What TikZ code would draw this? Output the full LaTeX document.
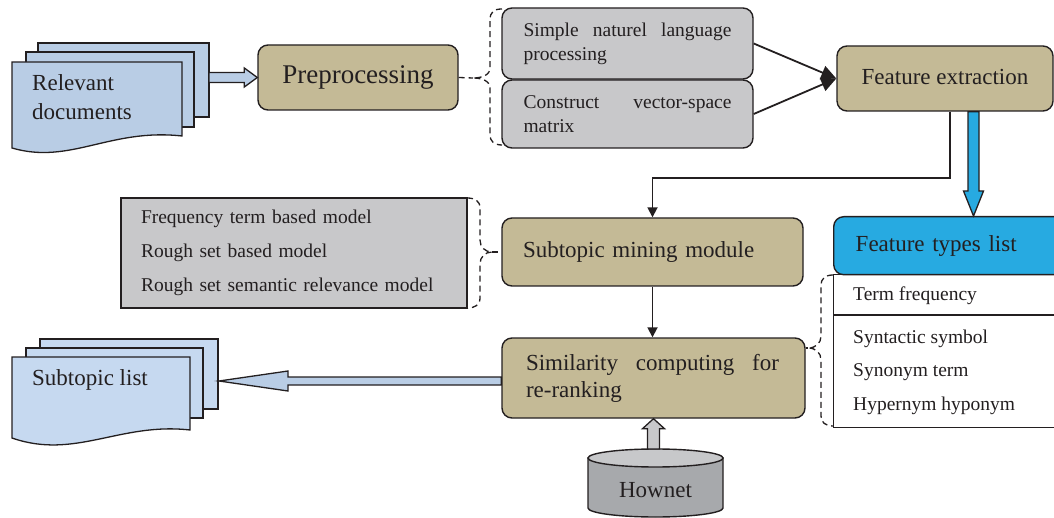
\documentclass[tikz,border=0pt]{standalone}
\usepackage{fontspec}
\setmainfont{Liberation Serif}
\usetikzlibrary{arrows.meta,calc}

\definecolor{ink}{HTML}{231F20}
\definecolor{tanfill}{HTML}{C4BA96}
\definecolor{softgray}{HTML}{C8C8CA}
\definecolor{docblue}{HTML}{B9CDE5}
\definecolor{listblue}{HTML}{C6D9F0}
\definecolor{featblue}{HTML}{27AAE1}
\definecolor{cylbody}{HTML}{A7A9AC}
\definecolor{cyltop}{HTML}{C7C8CA}

% a line whose word spaces stretch to the given width
\newcommand\spreadline[2]{\makebox[#1][s]{\spaceskip=0pt\xspaceskip=0pt\relax #2}}

\tikzset{
  outline/.style={draw=ink, line width=1.4pt},
  roundbox/.style={outline, rounded corners=10pt, inner sep=0pt},
  tanbox/.style={roundbox, fill=tanfill},
  graybox/.style={roundbox, fill=softgray},
  big/.style={font=\fontsize{23}{27}\selectfont},
  small/.style={font=\fontsize{19.5}{24}\selectfont},
  brace/.style={draw=ink, line width=1.3pt, dash pattern=on 6pt off 4pt},
  conn/.style={draw=ink, line width=1.8pt},
  page/.style={draw=ink, line width=1.3pt, fill=docblue},
  fatarrow/.style={draw=ink, line width=1.3pt, line join=miter},
  label/.style={inner sep=0pt, anchor=west},
}

\begin{document}
\begin{tikzpicture}[x=1pt, y=-1pt, text=ink]
\useasboundingbox (0,0) rectangle (1054,518);
\clip (0,0) rectangle (1054,518);

% ---- input document stack ----
\draw[page] (38,43) rectangle (209,117);
\draw[page] (26,52) rectangle (194,127);
\draw[page] (12,62) -- (182,62) -- (182,136)
  .. controls (110,128) and (70,165) .. (12,148) -- cycle;
\node[label, align=left, font=\fontsize{23}{29}\selectfont] (reldocs) at (32,97) {Relevant\\documents};
\coordinate (docsR) at (209,77.5);

% ---- preprocessing ----
\node[tanbox, minimum width=200pt, minimum height=65pt, font=\fontsize{27}{32}\selectfont] (pre) at (358,77.5) {\raisebox{2pt}{Preprocessing}};

\node[graybox, minimum width=251pt, minimum height=71pt, text width=208pt, align=left, small] (nlp) at (627.5,43.5)
  {\spreadline{208pt}{Simple naturel language}\\processing};
\node[graybox, minimum width=251pt, minimum height=68pt, text width=208pt, align=left, small] (vsm) at (627.5,114)
  {\spreadline{208pt}{Construct vector-space}\\matrix};

% brace grouping the two preprocessing steps
\coordinate (preCusp) at (473,78);
\draw[brace] (502,9) .. controls (494,9) and (490,12) .. (490,20) -- (490,68)
  .. controls (490,75) and (482,78) .. (preCusp)
  .. controls (482,78) and (490,81) .. (490,88) -- (490,135)
  .. controls (490,141) and (494,145) .. (502,145);
\draw[brace] (pre.east) -- (preCusp);

% ---- feature extraction ----
\node[tanbox, minimum width=216pt, minimum height=65pt, big] (fe) at (945,78.5) {\raisebox{3pt}{Feature extraction}};
\draw[conn, -{Triangle[length=15pt,width=14pt]}] (nlp.east) -- (fe.west);
\draw[conn, -{Triangle[length=15pt,width=14pt]}] (vsm.east) -- (fe.west);

% ---- feature types list ----
\node[outline, fill=white, inner sep=0pt, minimum width=240pt, minimum height=153pt, anchor=north west] (flist) at (833,274) {};
\draw[outline] ([yshift=-41pt]flist.north west) -- ([yshift=-41pt]flist.north east);
\node[roundbox, fill=featblue, minimum width=240pt, minimum height=58pt, text width=196pt, align=left, big, anchor=north west] (ftl) at (833,216) {Feature types list};
\node[label, small] (tf) at (853,296) {Term frequency};
\node[label, small] (ss) at (853,339) {Syntactic symbol};
\node[label, small] (st) at (853,372) {Synonym term};
\node[label, small] (hh) at (853,406) {Hypernym hyponym};

% wide blue arrow into the feature types list
\coordinate (feB) at ([xshift=28.5pt]fe.south);
\coordinate (ftlTip) at (ftl.north -| feB);
\draw[fatarrow, fill=featblue]
  ($(feB)+(-5.5,0)$) -- ($(ftlTip)+(-5.5,-25)$) -- ($(ftlTip)+(-10,-25)$) -- (ftlTip)
  -- ($(ftlTip)+(10,-25)$) -- ($(ftlTip)+(5.5,-25)$) -- ($(feB)+(5.5,0)$) -- cycle;

% ---- subtopic mining ----
\node[tanbox, minimum width=301pt, minimum height=68pt, text width=259pt, align=left, big] (sub) at (652.5,252) {\raisebox{2pt}{Subtopic mining module}};
\draw[conn, -{Triangle[length=10pt,width=10pt]}] ([xshift=5pt]fe.south) |- ([yshift=39pt]sub.north) -- (sub.north);

\node[outline, fill=softgray, inner sep=0pt, minimum width=346pt, minimum height=110pt, text width=306pt, align=left,
  font=\fontsize{19.5}{34}\selectfont] (models) at (294,253)
  {Frequency term based model\\Rough set based model\\Rough set semantic relevance model};

\coordinate (modCusp) at (492,252);
\draw[brace] (467,198) .. controls (475,198) and (480,201) .. (480,208) -- (480,240)
  .. controls (480,247) and (485,252) .. (modCusp)
  .. controls (485,252) and (480,257) .. (480,264) -- (480,298)
  .. controls (480,305) and (475,308) .. (467,308);
\draw[brace] (modCusp) -- (sub.west);

% ---- similarity computing ----
\node[tanbox, minimum width=303pt, minimum height=80pt, text width=255pt, align=left, big] (simc) at (653.5,378)
  {\spreadline{253pt}{Similarity computing for}\\re-ranking};
\draw[conn, -{Triangle[length=10pt,width=10pt]}] (sub.south) -- (sub.south |- simc.north);

% brace linking the feature types to the similarity step
\coordinate (featCusp) at (808,348);
\draw[brace] (833,275) .. controls (825,275) and (821,279) .. (821,285) -- (821,336)
  .. controls (821,343) and (816,348) .. (featCusp)
  .. controls (816,348) and (821,353) .. (821,360) -- (821,416)
  .. controls (821,422) and (825,426) .. (833,426);
\draw[brace] (featCusp) -- (simc.east |- featCusp);

% ---- output document stack ----
\draw[page, fill=listblue] (40,339) rectangle (218,409);
\draw[page, fill=listblue] (26,348) rectangle (203,418);
\draw[page, fill=listblue] (12,357) -- (190,357) -- (190,430)
  .. controls (120,422) and (75,460) .. (12,438) -- cycle;
\node[label, big] (sublist) at (32,380) {Subtopic list};
\coordinate (subR) at (219,381);
\coordinate (simOut) at ([yshift=-3pt]simc.west);
\draw[fatarrow, fill=docblue]
  ($(simOut)+(0,-4)$) -- ($(subR)+(69,-4)$) -- ($(subR)+(69,-10)$) -- (subR)
  -- ($(subR)+(69,10)$) -- ($(subR)+(69,4)$) -- ($(simOut)+(0,4)$) -- cycle;

% input docs into preprocessing
\draw[fatarrow, fill=docblue]
  ($(docsR)+(0,-5)$) -- ($(pre.west)+(-13,-5)$) -- ($(pre.west)+(-13,-9.5)$) -- (pre.west)
  -- ($(pre.west)+(-13,9.5)$) -- ($(pre.west)+(-13,5)$) -- ($(docsR)+(0,5)$) -- cycle;

% ---- Hownet database ----
\draw[outline, fill=cylbody] (588,458) -- (588,508)
  arc[start angle=180, end angle=360, x radius=67.5pt, y radius=9pt] -- (723,458) -- cycle;
\draw[outline, fill=cyltop] (655.5,458) ellipse[x radius=67.5pt, y radius=9pt];
\node[big, inner sep=0pt] (hownet) at (655.5,490) {Hownet};
\coordinate (hownetTop) at (653.5,449);
\coordinate (hownetTip) at (simc.south -| hownetTop);
\draw[fatarrow, fill=softgray]
  ($(hownetTop)+(-6,0)$) -- ($(hownetTip)+(-6,10)$) -- ($(hownetTip)+(-11,10)$) -- (hownetTip)
  -- ($(hownetTip)+(11,10)$) -- ($(hownetTip)+(6,10)$) -- ($(hownetTop)+(6,0)$) -- cycle;
\end{tikzpicture}
\end{document}
